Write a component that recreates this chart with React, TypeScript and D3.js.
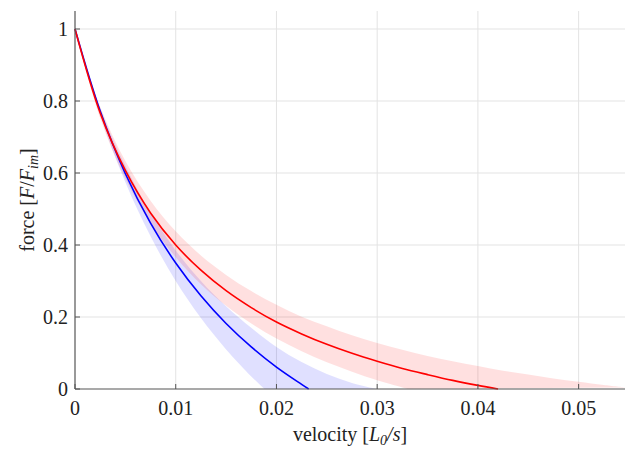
import React from 'react';
import * as d3 from 'd3';

// velocity grid shared by most series [L0/s]
const grid = [0, 0.0025, 0.005, 0.0075, 0.01, 0.0125, 0.015, 0.0175, 0.02, 0.0225, 0.025, 0.0275, 0.03, 0.0325, 0.035, 0.0375, 0.04, 0.0425, 0.045, 0.0475, 0.05, 0.0525];

// red series (mean + band)
const redV = [...grid.slice(0, 17), 0.042];
const redF = [1, 0.767, 0.607, 0.489, 0.4, 0.33, 0.273, 0.226, 0.186, 0.153, 0.124, 0.099, 0.077, 0.057, 0.04, 0.024, 0.01, 0];
const redUpV = [...grid, 0.0546];
const redUpF = [1, 0.784, 0.633, 0.523, 0.438, 0.371, 0.317, 0.272, 0.234, 0.201, 0.174, 0.149, 0.128, 0.109, 0.092, 0.077, 0.064, 0.051, 0.04, 0.029, 0.02, 0.011, 0.0045];
const redLoV = [...grid.slice(0, 14), 0.033];
const redLoF = [1, 0.753, 0.584, 0.46, 0.366, 0.291, 0.231, 0.182, 0.14, 0.105, 0.074, 0.048, 0.024, 0.004, 0];

// blue series (mean + band)
const blueV = [...grid.slice(0, 10), 0.0232];
const blueF = [1, 0.772, 0.598, 0.461, 0.35, 0.259, 0.182, 0.117, 0.061, 0.013, 0];
const blueUpV = grid.slice(0, 13);
const blueUpF = [1, 0.78, 0.62, 0.49, 0.385, 0.3, 0.23, 0.17, 0.117, 0.075, 0.042, 0.017, 0];
const blueLoV = [...grid.slice(0, 8), 0.0188];
const blueLoF = [1, 0.761, 0.574, 0.424, 0.3, 0.197, 0.11, 0.035, 0];

const xTicks = [0, 0.01, 0.02, 0.03, 0.04, 0.05];
const yTicks = [0, 0.2, 0.4, 0.6, 0.8, 1];

const W = 625;
const H = 449;
const left = 75;
const bottom = 389;

const x = d3.scaleLinear().domain([0, 0.055]).range([left, 629]);
const y = d3.scaleLinear().domain([0, 1.05]).range([bottom, 11]);

const zip = (vs: number[], fs: number[]) => vs.map((v, i) => [v, fs[i]] as [number, number]);

const line = d3.line<[number, number]>()
  .x(d => x(d[0]))
  .y(d => y(d[1]))
  .curve(d3.curveCatmullRom.alpha(0.5));

const band = (upV: number[], upF: number[], loV: number[], loF: number[]) => {
  const up = line(zip(upV, upF)) as string;
  const lo = line(zip(loV, loF).reverse()) as string;
  return up + 'L' + lo.slice(1) + 'Z';
};

const tickFmt = (d: number) => (d === 0 ? '0' : String(+d.toFixed(2)));

export default function App() {
  const font = "'Liberation Serif', 'Times New Roman', 'DejaVu Serif', serif";
  const fs = 20;
  return (
    <div style={{ position: 'fixed', left: 0, top: 0 }}>
      <svg width={W} height={H} style={{ display: 'block', background: '#fff', fontFamily: font }}>
        {/* grid */}
        {xTicks.slice(1).map(t => (
          <line key={'gx' + t} x1={x(t)} x2={x(t)} y1={y(1.05)} y2={bottom} stroke="#e3e3e3" strokeWidth={1} />
        ))}
        {yTicks.slice(1).map(t => (
          <line key={'gy' + t} x1={left} x2={W} y1={y(t)} y2={y(t)} stroke="#e3e3e3" strokeWidth={1} />
        ))}

        {/* bands */}
        <path d={band(blueUpV, blueUpF, blueLoV, blueLoF)} fill="#0000ff" fillOpacity={0.12} />
        <path d={band(redUpV, redUpF, redLoV, redLoF)} fill="#ff0000" fillOpacity={0.12} />

        {/* lines */}
        <path d={line(zip(blueV, blueF)) as string} fill="none" stroke="#0000ff" strokeWidth={1.6} />
        <path d={line(zip(redV, redF)) as string} fill="none" stroke="#ff0000" strokeWidth={1.6} />

        {/* axes */}
        <line x1={left} x2={W} y1={bottom} y2={bottom} stroke="#555" strokeWidth={1.2} />
        <line x1={left} x2={left} y1={y(1.05)} y2={bottom} stroke="#555" strokeWidth={1.2} />
        {xTicks.map(t => (
          <g key={'tx' + t}>
            <line x1={x(t)} x2={x(t)} y1={bottom} y2={bottom - 5} stroke="#555" strokeWidth={1} />
            <text x={x(t)} y={415} textAnchor="middle" fontSize={fs} fill="#222">{tickFmt(t)}</text>
          </g>
        ))}
        {yTicks.map(t => (
          <g key={'ty' + t}>
            <line x1={left} x2={left + 5} y1={y(t)} y2={y(t)} stroke="#555" strokeWidth={1} />
            <text x={68} y={y(t)} dy="0.33em" textAnchor="end" fontSize={fs} fill="#222">{tickFmt(t)}</text>
          </g>
        ))}

        {/* axis labels */}
        <text x={(left + W) / 2} y={441} textAnchor="middle" fontSize={fs} fill="#222">
          velocity [<tspan fontStyle="italic">L</tspan>
          <tspan fontStyle="italic" fontSize={14} dy={4}>0</tspan>
          <tspan dy={-4} fontStyle="italic">/s</tspan>]
        </text>
        <text transform={`translate(34, ${(y(1.05) + bottom) / 2}) rotate(-90)`} textAnchor="middle" fontSize={fs} fill="#222">
          force [<tspan fontStyle="italic">F</tspan>/<tspan fontStyle="italic">F</tspan>
          <tspan fontStyle="italic" fontSize={14} dy={4}>im</tspan>
          <tspan dy={-4}>]</tspan>
        </text>
      </svg>
    </div>
  );
}
